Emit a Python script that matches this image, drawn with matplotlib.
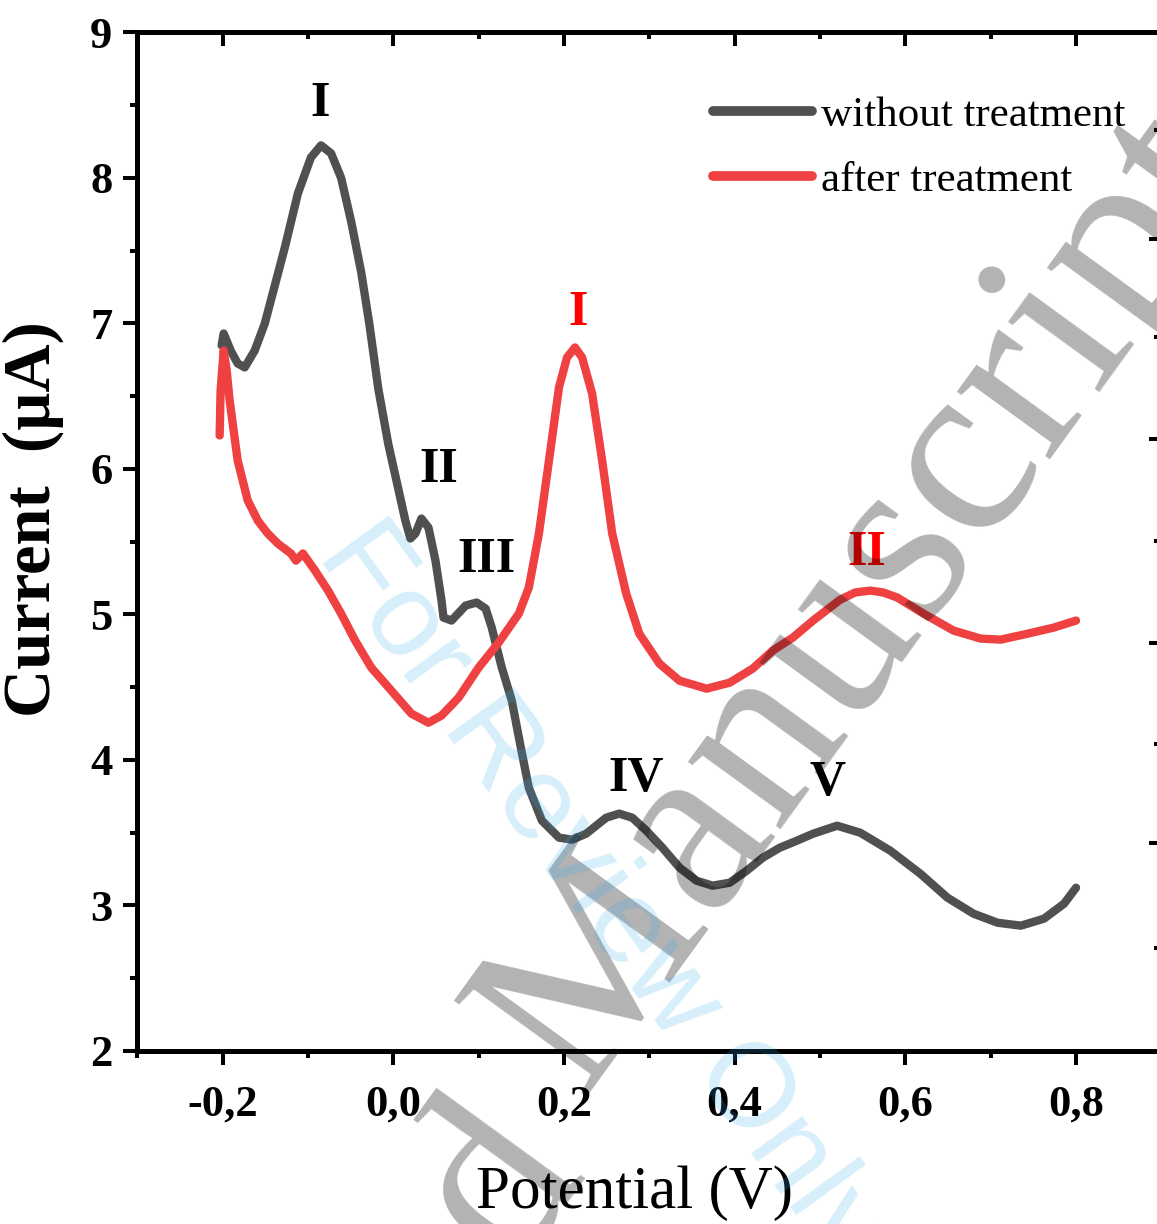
import matplotlib
matplotlib.use('Agg')
import matplotlib.pyplot as plt
from matplotlib.ticker import MultipleLocator, FixedLocator, FuncFormatter

plt.rcParams['font.family'] = ['Liberation Serif', 'DejaVu Serif']

# Differential pulse voltammograms (potential in V, current in uA)
pot_without = [-0.2012, -0.1988, -0.1906, -0.1824, -0.1741, -0.1624, -0.1506, -0.1435,
               -0.1271, -0.1118, -0.0965, -0.0847, -0.0729, -0.0612, -0.0494, -0.0376,
               -0.0282, -0.0176, -0.0059, 0.0059, 0.0141, 0.0200, 0.0259, 0.0329,
               0.0412, 0.0494, 0.0565, 0.0588, 0.0682, 0.0847, 0.0976, 0.1082,
               0.1153, 0.1271, 0.1388, 0.1494, 0.1588, 0.1741, 0.1941, 0.2094,
               0.2259, 0.2494, 0.2647, 0.2800, 0.2965, 0.3153, 0.3353, 0.3553,
               0.3741, 0.3941, 0.4141, 0.4329, 0.4529, 0.4729, 0.4918, 0.5200,
               0.5471, 0.5824, 0.6176, 0.6494, 0.6800, 0.7082, 0.7353, 0.7624,
               0.7859, 0.8000]
cur_without = [6.848, 6.930, 6.813, 6.724, 6.697, 6.813, 6.999, 7.157,
               7.522, 7.893, 8.140, 8.223, 8.168, 8.000, 7.700, 7.350,
               7.000, 6.550, 6.170, 5.860, 5.644, 5.521, 5.555, 5.658,
               5.596, 5.369, 5.094, 4.977, 4.957, 5.060, 5.081, 5.039,
               4.909, 4.634, 4.407, 4.084, 3.808, 3.582, 3.465, 3.451,
               3.492, 3.602, 3.630, 3.602, 3.513, 3.396, 3.259, 3.169,
               3.135, 3.155, 3.238, 3.327, 3.396, 3.444, 3.492, 3.547,
               3.499, 3.375, 3.217, 3.052, 2.942, 2.880, 2.860, 2.908,
               3.011, 3.121]

pot_after = [-0.2035, -0.2024, -0.1988, -0.1953, -0.1918, -0.1824, -0.1706, -0.1588,
             -0.1471, -0.1353, -0.1200, -0.1141, -0.1059, -0.0918, -0.0765, -0.0612,
             -0.0447, -0.0259, -0.0024, 0.0212, 0.0412, 0.0565, 0.0765, 0.1000,
             0.1235, 0.1471, 0.1588, 0.1706, 0.1824, 0.1941, 0.2035, 0.2129,
             0.2212, 0.2329, 0.2447, 0.2565, 0.2729, 0.2882, 0.3118, 0.3353,
             0.3671, 0.3941, 0.4212, 0.4447, 0.4682, 0.4918, 0.5235, 0.5412,
             0.5588, 0.5741, 0.5906, 0.6212, 0.6565, 0.6882, 0.7118, 0.7435,
             0.7741, 0.8000]
cur_after = [6.229, 6.538, 6.813, 6.676, 6.470, 6.057, 5.782, 5.644,
             5.555, 5.486, 5.418, 5.369, 5.418, 5.301, 5.163, 5.005,
             4.819, 4.634, 4.476, 4.317, 4.255, 4.304, 4.427, 4.634,
             4.806, 5.005, 5.184, 5.555, 6.057, 6.559, 6.765, 6.834,
             6.765, 6.518, 6.057, 5.555, 5.142, 4.867, 4.661, 4.544,
             4.489, 4.530, 4.627, 4.751, 4.840, 4.957, 5.100, 5.150,
             5.163, 5.150, 5.115, 5.005, 4.888, 4.833, 4.826, 4.867,
             4.909, 4.957]

# peak labels: text, potential, current, colour
peak_text = ['I', 'II', 'III', 'IV', 'V', 'I', 'II']
peak_x = [-0.086, 0.053, 0.109, 0.284, 0.509, 0.217, 0.555]
peak_y = [8.51, 5.99, 5.37, 3.87, 3.84, 7.07, 5.42]
peak_col = ['black'] * 5 + ['#ff0000'] * 2

W, H = 1157, 1224
fig = plt.figure(figsize=(W / 100, H / 100), dpi=100, facecolor='white')

x0, x1 = -0.3, 0.92
px_per_v = 853.4
ax_w = (x1 - x0) * px_per_v
ax = fig.add_axes([137.3 / W, 1 - 1050.8 / H, ax_w / W, 1018.5 / H])

ax.plot(pot_without, cur_without, color='#505050', lw=6, label='without treatment',
        solid_joinstyle='round', solid_capstyle='round', zorder=3)
ax.plot(pot_after, cur_after, color='#ef4141', lw=6, label='after treatment',
        solid_joinstyle='round', solid_capstyle='round', zorder=3)

for t, x, y, c in zip(peak_text, peak_x, peak_y, peak_col):
    ax.text(x, y, t, ha='center', va='center', fontsize=36, fontweight='bold', color=c)

ax.set_xlim(x0, x1)
ax.set_ylim(2, 9)

ax.xaxis.set_major_locator(FixedLocator([-0.2, 0.0, 0.2, 0.4, 0.6, 0.8]))
ax.xaxis.set_minor_locator(MultipleLocator(0.1))
ax.yaxis.set_major_locator(MultipleLocator(1))
ax.yaxis.set_minor_locator(MultipleLocator(0.5))
ax.xaxis.set_major_formatter(FuncFormatter(lambda v, p: f'{v:.1f}'.replace('.', ',').replace('-0,0', '0,0')))
ax.yaxis.set_major_formatter(FuncFormatter(lambda v, p: f'{v:.0f}'))

for s in ['left', 'bottom', 'top']:
    ax.spines[s].set_linewidth(3.6)
ax.spines['right'].set_visible(False)

ax.tick_params(which='major', direction='out', length=10, width=2.9, labelsize=32, pad=8)
ax.tick_params(which='minor', direction='out', length=5, width=2.9)
ax.tick_params(axis='x', which='major', pad=14)
for lab in ax.get_xticklabels() + ax.get_yticklabels():
    lab.set_fontweight('bold')

top = ax.secondary_xaxis('top')
top.xaxis.set_major_locator(FixedLocator([-0.2, 0.0, 0.2, 0.4, 0.6, 0.8]))
top.xaxis.set_minor_locator(MultipleLocator(0.1))
top.tick_params(which='major', direction='in', length=10, width=2.9, labeltop=False)
top.tick_params(which='minor', direction='in', length=5, width=2.9)
top.spines['top'].set_linewidth(3.6)

ax.set_xlabel('Potential (V)', fontsize=44)
ax.xaxis.set_label_coords((634 - 137.3) / ax_w, -0.112)
ax.set_ylabel('Current  (µA)', fontsize=48, fontweight='bold')
ax.yaxis.set_label_coords((64 - 137.3) / ax_w, 0.522)

leg = ax.legend(loc='upper left', bbox_to_anchor=((713 - 137.3) / ax_w, 0.938),
                frameon=False, fontsize=31, handlelength=2.3, handletextpad=0.2,
                labelspacing=0.62, borderpad=0, borderaxespad=0)
for h in leg.get_lines():
    h.set_linewidth(7)

# neighbouring panel's axis ticks peeking in at the right edge
nb = fig.add_axes([1160 / W, 0, 0.05, 1])
nb.set_ylim(H, 0)
nb.patch.set_visible(False)
for s in nb.spines.values():
    s.set_visible(False)
nb.set_xticks([])
nb.yaxis.set_major_locator(FixedLocator([239, 439, 643, 843]))
nb.yaxis.set_minor_locator(FixedLocator([130, 337, 541, 744, 948]))
nb.tick_params(which='major', direction='out', length=8, width=2.9, labelleft=False)
nb.tick_params(which='minor', direction='out', length=4, width=2.9)

# watermarks
fig.text(587 / W, 1 - 1173 / H, 'Accepted', fontsize=180, color='black', alpha=0.3,
         rotation=54, rotation_mode='anchor', ha='right', va='baseline', zorder=10)
fig.text(580 / W, 1 - 1097 / H, 'Manuscript', fontsize=180, color='black', alpha=0.3,
         rotation=54, rotation_mode='anchor', ha='left', va='baseline', zorder=10)
fig.text(600 / W, 1 - 895 / H, 'For Review Only', fontsize=86, family='Liberation Sans',
         color='#33aaee', alpha=0.2, rotation=-54, rotation_mode='anchor',
         ha='center', va='center', zorder=10)

fig.savefig('out.png', dpi=100, facecolor='white')
